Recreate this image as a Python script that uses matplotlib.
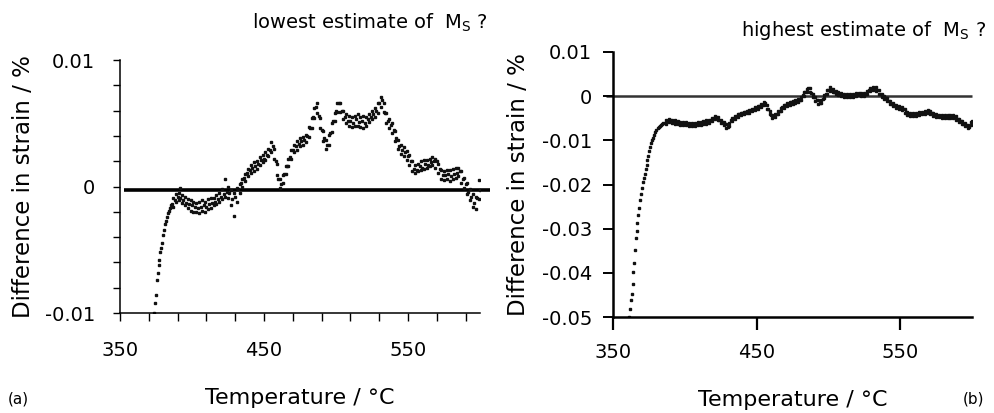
from matplotlib import pyplot as plt
import numpy as np

# ---- panel (a): lowest estimate of Ms ----
temps_a_rise = [373.8, 374.3, 374.8, 375.5, 376.2, 376.8, 377.3, 378.0, 378.6, 379.2,
                380.0, 380.6, 381.3, 382.0, 382.6, 383.3, 384.0, 384.8, 385.5, 391.9]
strain_a_rise = [-0.0100, -0.0092, -0.0086, -0.0074, -0.0068, -0.0062, -0.0058, -0.0052, -0.0049, -0.0045,
                 -0.0038, -0.0034, -0.0030, -0.0027, -0.0024, -0.0021, -0.0019, -0.0017, -0.0015, -0.0001]

temps_a_even = list(range(386, 601, 2))
strain_a_mid = [
    -0.0014, -0.0011, -0.0008, -0.0009, -0.0011, -0.0013, -0.0014, -0.0015, -0.0016, -0.0017,
    -0.0016, -0.0015, -0.0016, -0.0014, -0.0013, -0.0012, -0.0010, -0.0008, -0.0006, -0.0004,
    -0.0005, -0.0010, -0.0008, -0.0002, 0.0003, 0.0007, 0.0011, 0.0013, 0.0015, 0.0016,
    0.0018, 0.0021, 0.0022, 0.0025, 0.0029, 0.0032, 0.0020, 0.0006, 0.0002, 0.0010,
    0.0016, 0.0023, 0.0029, 0.0032, 0.0034, 0.0036, 0.0037, 0.0040, 0.0046, 0.0055,
    0.0063, 0.0056, 0.0045, 0.0038, 0.0033, 0.0042, 0.0052, 0.0060, 0.0066, 0.0060,
    0.0055, 0.0052, 0.0052, 0.0050, 0.0053, 0.0051, 0.0052, 0.0050, 0.0053, 0.0055,
    0.0057, 0.0060, 0.0066, 0.0068, 0.0058, 0.0052, 0.0049, 0.0045, 0.0038, 0.0032,
    0.0029, 0.0027, 0.0024, 0.0020, 0.0014, 0.0013, 0.0016, 0.0015, 0.0018, 0.0017,
    0.0019, 0.0020, 0.0020, 0.0014, 0.0009, 0.0009, 0.0010, 0.0008, 0.0010, 0.0011,
    0.0012, 0.0006, 0.0002, -0.0004, -0.0008, -0.0013, -0.0009, -0.0003]

temps_a_odd = list(range(387, 600, 2))
strain_a_up = [
    -0.0009, -0.0006, -0.0005, -0.0007, -0.0008, -0.0010, -0.0011, -0.0012, -0.0013, -0.0012,
    -0.0011, -0.0012, -0.0010, -0.0009, -0.0009, -0.0007, -0.0005, -0.0002, 0.0006, 0.0000,
    -0.0003, -0.0005, -0.0001, 0.0002, 0.0006, 0.0010, 0.0014, 0.0017, 0.0019, 0.0020,
    0.0023, 0.0025, 0.0027, 0.0030, 0.0035, 0.0030, 0.0018, 0.0006, 0.0009, 0.0016,
    0.0022, 0.0029, 0.0033, 0.0036, 0.0038, 0.0039, 0.0041, 0.0047, 0.0054, 0.0062,
    0.0066, 0.0054, 0.0044, 0.0037, 0.0041, 0.0050, 0.0058, 0.0066, 0.0066, 0.0060,
    0.0057, 0.0056, 0.0055, 0.0056, 0.0057, 0.0055, 0.0056, 0.0055, 0.0057, 0.0060,
    0.0062, 0.0066, 0.0071, 0.0066, 0.0058, 0.0053, 0.0050, 0.0044, 0.0037, 0.0033,
    0.0031, 0.0028, 0.0025, 0.0020, 0.0017, 0.0018, 0.0020, 0.0021, 0.0021, 0.0022,
    0.0023, 0.0022, 0.0018, 0.0013, 0.0012, 0.0013, 0.0013, 0.0014, 0.0015, 0.0015,
    0.0012, 0.0007, 0.0003, -0.0002, -0.0006, -0.0008, 0.0005]
strain_a_dn = [
    -0.0016, -0.0012, -0.0011, -0.0013, -0.0015, -0.0017, -0.0019, -0.0020, -0.0020, -0.0021,
    -0.0019, -0.0020, -0.0018, -0.0017, -0.0015, -0.0014, -0.0012, -0.0010, -0.0008, -0.0009,
    -0.0015, -0.0023, -0.0012, -0.0005, 0.0000, 0.0004, 0.0008, 0.0011, 0.0012, 0.0014,
    0.0017, 0.0019, 0.0021, 0.0024, 0.0027, 0.0022, 0.0009, -0.0001, 0.0003, 0.0010,
    0.0016, 0.0022, 0.0027, 0.0029, 0.0032, 0.0033, 0.0035, 0.0039, 0.0046, 0.0054,
    0.0058, 0.0046, 0.0036, 0.0030, 0.0033, 0.0043, 0.0052, 0.0059, 0.0059, 0.0053,
    0.0050, 0.0048, 0.0047, 0.0048, 0.0048, 0.0047, 0.0046, 0.0048, 0.0051, 0.0053,
    0.0055, 0.0058, 0.0063, 0.0059, 0.0050, 0.0046, 0.0042, 0.0036, 0.0030, 0.0026,
    0.0024, 0.0021, 0.0017, 0.0012, 0.0011, 0.0012, 0.0013, 0.0014, 0.0015, 0.0016,
    0.0017, 0.0015, 0.0011, 0.0006, 0.0005, 0.0006, 0.0004, 0.0006, 0.0007, 0.0008,
    0.0003, -0.0001, -0.0006, -0.0011, -0.0016, -0.0018, -0.0010]

# ---- panel (b): highest estimate of Ms ----
temps_b_rise = [361.4, 362.0, 362.6, 363.1, 363.7, 364.2, 364.8, 365.4, 366.0, 366.5,
                367.0, 367.6, 368.2, 368.9, 369.5, 370.2, 370.8, 371.4, 372.0, 372.7,
                373.4, 374.0, 374.6, 375.3, 375.9, 376.5, 377.2, 377.9, 378.6, 379.4,
                380.2, 381.0, 381.8, 382.6, 383.4, 384.2, 385.0]
strain_b_rise = [-0.0500, -0.0482, -0.0462, -0.0447, -0.0425, -0.0398, -0.0378, -0.0348, -0.0322, -0.0305,
                 -0.0288, -0.0270, -0.0253, -0.0236, -0.0222, -0.0208, -0.0195, -0.0186, -0.0177, -0.0165,
                 -0.0155, -0.0145, -0.0135, -0.0125, -0.0115, -0.0107, -0.0100, -0.0094, -0.0088, -0.0082,
                 -0.0077, -0.0073, -0.0070, -0.0067, -0.0065, -0.0063, -0.0061]

temps_b_even = list(range(386, 601, 2))
strain_b_mid = [
    -0.0060, -0.0057, -0.0055, -0.0057, -0.0059, -0.0060, -0.0062, -0.0062, -0.0063, -0.0063,
    -0.0064, -0.0063, -0.0062, -0.0061, -0.0059, -0.0058, -0.0055, -0.0050, -0.0048, -0.0053,
    -0.0058, -0.0064, -0.0069, -0.0055, -0.0050, -0.0045, -0.0040, -0.0038, -0.0036, -0.0035,
    -0.0032, -0.0030, -0.0027, -0.0023, -0.0019, -0.0016, -0.0030, -0.0043, -0.0046, -0.0040,
    -0.0033, -0.0025, -0.0020, -0.0017, -0.0014, -0.0013, -0.0010, -0.0008, 0.0002, 0.0010,
    0.0018, 0.0008, -0.0003, -0.0008, -0.0016, -0.0006, 0.0006, 0.0015, 0.0017, 0.0010,
    0.0006, 0.0004, 0.0003, 0.0001, 0.0000, 0.0002, 0.0003, 0.0004, 0.0006, 0.0003,
    0.0005, 0.0013, 0.0017, 0.0018, 0.0014, 0.0005, 0.0000, -0.0004, -0.0012, -0.0018,
    -0.0021, -0.0024, -0.0027, -0.0030, -0.0036, -0.0040, -0.0043, -0.0042, -0.0040, -0.0039,
    -0.0037, -0.0035, -0.0034, -0.0038, -0.0042, -0.0044, -0.0045, -0.0046, -0.0047, -0.0046,
    -0.0045, -0.0047, -0.0052, -0.0057, -0.0062, -0.0066, -0.0070, -0.0057]

temps_b_odd = list(range(387, 600, 2))
strain_b_up = [
    -0.0055, -0.0052, -0.0053, -0.0055, -0.0056, -0.0058, -0.0059, -0.0059, -0.0060, -0.0060,
    -0.0060, -0.0059, -0.0058, -0.0056, -0.0055, -0.0053, -0.0049, -0.0045, -0.0047, -0.0053,
    -0.0058, -0.0064, -0.0060, -0.0050, -0.0045, -0.0040, -0.0037, -0.0035, -0.0033, -0.0031,
    -0.0028, -0.0025, -0.0022, -0.0018, -0.0014, -0.0020, -0.0034, -0.0043, -0.0040, -0.0033,
    -0.0026, -0.0019, -0.0016, -0.0013, -0.0011, -0.0009, -0.0006, -0.0001, 0.0009, 0.0017,
    0.0018, 0.0005, -0.0002, -0.0009, -0.0008, 0.0003, 0.0013, 0.0020, 0.0016, 0.0011,
    0.0009, 0.0007, 0.0005, 0.0004, 0.0004, 0.0006, 0.0007, 0.0008, 0.0008, 0.0007,
    0.0012, 0.0018, 0.0020, 0.0020, 0.0013, 0.0006, 0.0001, -0.0004, -0.0011, -0.0016,
    -0.0019, -0.0022, -0.0025, -0.0030, -0.0035, -0.0038, -0.0039, -0.0038, -0.0036, -0.0035,
    -0.0033, -0.0031, -0.0033, -0.0037, -0.0040, -0.0042, -0.0043, -0.0043, -0.0043, -0.0042,
    -0.0043, -0.0046, -0.0051, -0.0056, -0.0061, -0.0065, -0.0058]
strain_b_dn = [
    -0.0062, -0.0059, -0.0060, -0.0062, -0.0064, -0.0065, -0.0066, -0.0066, -0.0067, -0.0067,
    -0.0067, -0.0066, -0.0065, -0.0063, -0.0062, -0.0060, -0.0056, -0.0052, -0.0055, -0.0060,
    -0.0065, -0.0071, -0.0068, -0.0057, -0.0052, -0.0047, -0.0043, -0.0041, -0.0039, -0.0037,
    -0.0034, -0.0031, -0.0028, -0.0025, -0.0021, -0.0028, -0.0041, -0.0050, -0.0047, -0.0040,
    -0.0033, -0.0026, -0.0022, -0.0019, -0.0017, -0.0015, -0.0013, -0.0009, 0.0001, 0.0009,
    0.0010, -0.0003, -0.0010, -0.0017, -0.0016, -0.0005, 0.0005, 0.0012, 0.0009, 0.0004,
    0.0002, 0.0000, -0.0002, -0.0003, -0.0003, -0.0001, 0.0000, 0.0002, 0.0001, 0.0000,
    0.0005, 0.0011, 0.0013, 0.0012, 0.0005, -0.0002, -0.0006, -0.0011, -0.0018, -0.0023,
    -0.0026, -0.0029, -0.0032, -0.0037, -0.0042, -0.0045, -0.0046, -0.0045, -0.0043, -0.0041,
    -0.0040, -0.0037, -0.0040, -0.0044, -0.0047, -0.0048, -0.0049, -0.0050, -0.0050, -0.0049,
    -0.0050, -0.0054, -0.0058, -0.0063, -0.0068, -0.0073, -0.0066]

xticks_a = list(range(350, 600, 20))
xlabels_a = {350: '350', 450: '450', 550: '550'}
yticks_a = [-0.01, -0.008, -0.006, -0.004, -0.002, 0, 0.002, 0.004, 0.006, 0.008, 0.01]
ylabels_a = {-0.01: '-0.01', 0: '0', 0.01: '0.01'}
xticks_b = [350, 450, 550]
yticks_b = [-0.05, -0.04, -0.03, -0.02, -0.01, 0, 0.01]
ylabels_b = ['-0.05', '-0.04', '-0.03', '-0.02', '-0.01', '0', '0.01']

plt.rcParams['font.family'] = ['DejaVu Sans']

fig = plt.figure(figsize=(9.94, 4.13), dpi=100)
ax_a = fig.add_axes([0.1207, 0.2421, 0.3622, 0.6126])
ax_b = fig.add_axes([0.6167, 0.2324, 0.3612, 0.6417])

dot = dict(linestyle='none', marker='s', markersize=1.8, color='#111111')

# (a) scattered points
ax_a.hlines(-0.00025, 353, 607, color='black', linewidth=2.6, clip_on=False, zorder=1)
ax_a.plot(temps_a_rise, strain_a_rise, **dot)
ax_a.plot(temps_a_even, strain_a_mid, **dot)
ax_a.plot(temps_a_odd, strain_a_up, **dot)
ax_a.plot(temps_a_odd, strain_a_dn, **dot)
ax_a.set_xlim(350, 600)
ax_a.set_ylim(-0.01, 0.01)
ax_a.set_xticks(xticks_a, [xlabels_a.get(t, '') for t in xticks_a])
ax_a.set_yticks(yticks_a, [ylabels_a.get(t, '') for t in yticks_a])
ax_a.tick_params(axis='x', direction='out', length=6, width=1, pad=14, labelsize=14)
ax_a.tick_params(axis='y', direction='out', length=5, width=1, pad=13, labelsize=14)

# (b) denser points
ax_b.hlines(0, 345, 600, color='#333333', linewidth=1.8, clip_on=False, zorder=1)
ax_b.plot(temps_b_rise, strain_b_rise, **dot)
ax_b.plot(temps_b_even, strain_b_mid, **dot)
ax_b.plot(temps_b_odd, strain_b_up, **dot)
ax_b.plot(temps_b_odd, strain_b_dn, **dot)
ax_b.set_xlim(350, 600)
ax_b.set_ylim(-0.05, 0.01)
ax_b.set_xticks(xticks_b, ['350', '450', '550'])
ax_b.set_yticks(yticks_b, ylabels_b)
ax_b.tick_params(axis='x', direction='out', length=9, width=1.6, pad=10, labelsize=14)
ax_b.tick_params(axis='y', direction='out', length=7, width=1.4, pad=8, labelsize=14)

for ax, lw in ((ax_a, 1.1), (ax_b, 1.8)):
    ax.spines['top'].set_visible(False)
    ax.spines['right'].set_visible(False)
    ax.spines['left'].set_linewidth(lw)
    ax.spines['bottom'].set_linewidth(lw)
    ax.set_ylabel('Difference in strain / %', fontsize=16.5)
    ax.set_xlabel('Temperature / °C', fontsize=16, labelpad=20)

ax_a.yaxis.set_label_coords(-0.237, 0.5)
ax_b.yaxis.set_label_coords(-0.23, 0.5)

fig.text(0.491, 0.945, r'lowest estimate of  M$_\mathregular{S}$ ?', ha='right', va='center', fontsize=14)
fig.text(0.992, 0.925, r'highest estimate of  M$_\mathregular{S}$ ?', ha='right', va='center', fontsize=14)
fig.text(0.008, 0.035, '(a)', ha='left', va='center', fontsize=11)
fig.text(0.99, 0.035, '(b)', ha='right', va='center', fontsize=11)

fig.savefig('out.png', dpi=100)
